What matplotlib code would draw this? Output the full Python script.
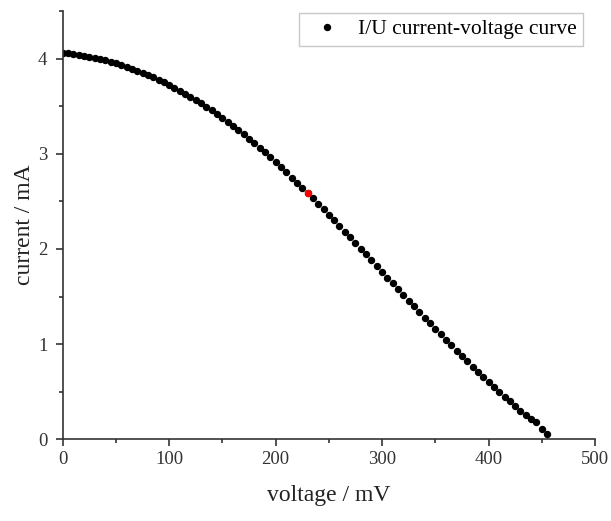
import matplotlib.pyplot as plt
from matplotlib.ticker import MultipleLocator

plt.rcParams['font.family'] = ['Liberation Serif', 'DejaVu Serif']

# measured I/U points (voltage in mV, current in mA)
voltage = [0, 5, 10, 15, 20, 25, 30, 35, 40, 45, 50, 55, 60, 65, 70, 75, 80, 85, 90, 95,
           100, 105, 110, 115, 120, 125, 130, 135, 140, 145, 150, 155, 160, 165, 170, 175,
           180, 185, 190, 195, 200, 205, 210, 215, 220, 225, 230, 235, 240, 245, 250, 255,
           260, 265, 270, 275, 280, 285, 290, 295, 300, 305, 310, 315, 320, 325, 330, 335,
           340, 345, 350, 355, 360, 365, 370, 375, 380, 385, 390, 395, 400, 405, 410, 415,
           420, 425, 430, 435, 440, 445, 450, 455]
current = [4.060, 4.054, 4.048, 4.040, 4.031, 4.020, 4.009, 3.996, 3.982, 3.967, 3.951,
           3.933, 3.915, 3.895, 3.874, 3.851, 3.828, 3.803, 3.778, 3.751, 3.723, 3.693,
           3.663, 3.631, 3.598, 3.564, 3.529, 3.492, 3.455, 3.416, 3.376, 3.334, 3.292,
           3.249, 3.204, 3.158, 3.111, 3.062, 3.013, 2.962, 2.910, 2.857, 2.804, 2.750,
           2.696, 2.642, 2.587, 2.531, 2.474, 2.417, 2.359, 2.301, 2.242, 2.183, 2.123,
           2.063, 2.003, 1.942, 1.881, 1.820, 1.759, 1.698, 1.637, 1.577, 1.517, 1.457,
           1.397, 1.338, 1.279, 1.220, 1.161, 1.103, 1.045, 0.988, 0.931, 0.874, 0.818,
           0.763, 0.709, 0.655, 0.602, 0.550, 0.499, 0.449, 0.399, 0.350, 0.302, 0.255,
           0.209, 0.180, 0.105, 0.052]
mpp_index = 46  # highlighted point (maximum power)

fig = plt.figure(figsize=(6.11, 5.21), dpi=100)
ax = fig.add_axes([0.1026, 0.1568, 0.8712, 0.8222])

ax.plot(voltage, current, 'o', color='black', markersize=4.3,
        label='I/U current-voltage curve')
ax.plot(voltage[mpp_index], current[mpp_index], 'o', color='red', markersize=4.3)

ax.set_xlim(0, 500)
ax.set_ylim(0, 4.5)
ax.xaxis.set_major_locator(MultipleLocator(100))
ax.xaxis.set_minor_locator(MultipleLocator(50))
ax.yaxis.set_major_locator(MultipleLocator(1))
ax.yaxis.set_minor_locator(MultipleLocator(0.5))

for side in ['top', 'right']:
    ax.spines[side].set_visible(False)
for side in ['left', 'bottom']:
    ax.spines[side].set_color('#333333')
    ax.spines[side].set_linewidth(1.2)

ax.tick_params(which='both', direction='out', color='#333333', width=1.2,
               labelcolor='#333333', labelsize=13.5)
ax.tick_params(which='major', length=5)
ax.tick_params(axis='y', which='major', pad=6)
ax.tick_params(which='minor', length=3)

ax.set_xlabel('voltage / mV', fontsize=17, color='#222222', va='center')
ax.set_ylabel('current / mA', fontsize=17, color='#222222', va='center')
ax.xaxis.set_label_coords(0.5, -0.132)
ax.yaxis.set_label_coords(-0.071, 0.5)

leg = ax.legend(loc='upper right', bbox_to_anchor=(0.978, 0.996), fontsize=15.5,
                frameon=True, fancybox=False, edgecolor='#bbbbbb', borderaxespad=0,
                handletextpad=0.45, borderpad=0.3, handlelength=2.0)
leg.get_frame().set_linewidth(1.0)

fig.savefig('out.png', dpi=100)
